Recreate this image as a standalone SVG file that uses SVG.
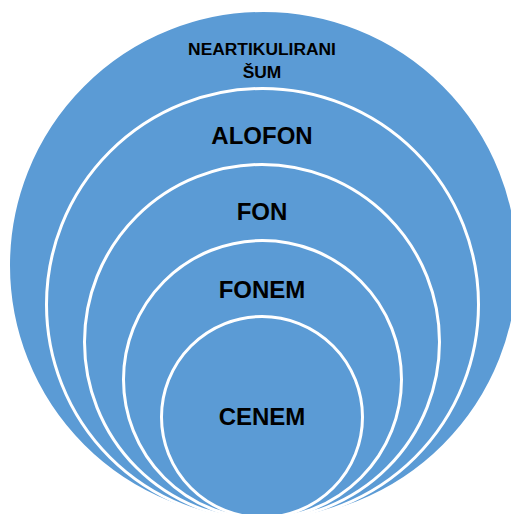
<svg xmlns="http://www.w3.org/2000/svg" width="511" height="514" viewBox="0 0 511 514">
<style>
.c{fill:#5B9BD5;stroke:#FFFFFF;stroke-width:3}
.t{font-family:"Liberation Sans",Arial,sans-serif;font-weight:bold;fill:#000;text-anchor:middle}
.b{font-size:24px}
.s{font-size:17.4px}
</style>
<rect width="511" height="514" fill="#FFFFFF"/>
<g id="sum">
<circle class="c" cx="263.5" cy="265.5" r="255"/>
<text class="t s" x="262" y="55">NEARTIKULIRANI</text>
<text class="t s" x="262" y="78">ŠUM</text>
</g>
<g id="alofon">
<circle class="c" cx="262.5" cy="304.5" r="216"/>
<text class="t b" x="262" y="144">ALOFON</text>
</g>
<g id="fon">
<circle class="c" cx="262" cy="342" r="177.5"/>
<text class="t b" x="262" y="220">FON</text>
</g>
<g id="fonem">
<circle class="c" cx="262.5" cy="379.5" r="139"/>
<text class="t b" x="262" y="298">FONEM</text>
</g>
<g id="cenem">
<circle class="c" cx="262" cy="417" r="100.5"/>
<text class="t b" x="262" y="425">CENEM</text>
</g>
<g id="connectors"/>
</svg>
